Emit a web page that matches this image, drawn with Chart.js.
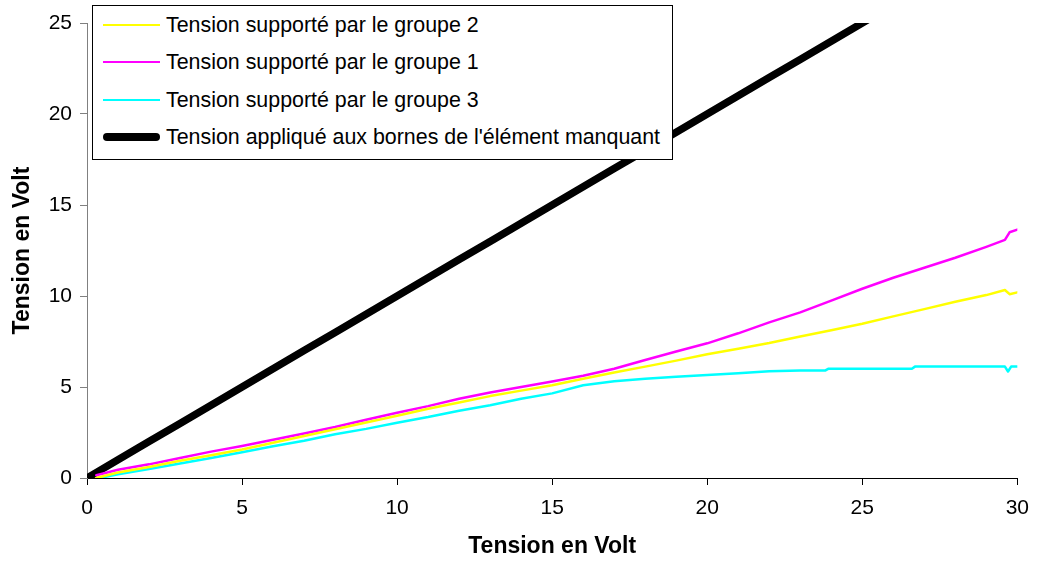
<!DOCTYPE html>
<html>
<head>
<meta charset="utf-8">
<script src="https://cdn.jsdelivr.net/npm/chart.js@4"></script>
<style>
html,body{margin:0;padding:0;background:#fff;}
#wrap{position:relative;width:1040px;height:572px;}
#legend{position:absolute;left:92px;top:5px;width:581px;height:155px;border:1px solid #000;background:#fff;box-sizing:border-box;font-family:"Liberation Sans",Arial,sans-serif;font-size:21.4px;color:#000;}
.item{position:absolute;left:10px;height:26px;display:flex;align-items:center;white-space:nowrap;}
.swatch{width:57px;margin-right:6px;}
</style>
</head>
<body>
<div id="wrap"><canvas id="c" width="1040" height="572"></canvas><div id="legend"></div></div>
<script>
// Series labels
const labels = [
  "Tension supporté par le groupe 2",
  "Tension supporté par le groupe 1",
  "Tension supporté par le groupe 3",
  "Tension appliqué aux bornes de l'élément manquant"
];
const colors = ["#FFFF00", "#FF00FF", "#00FFFF", "#000000"];

// Groupe 2 (yellow)
const g2X = [0.3,1,2,3,4,5,6,7,8,9,10,11,12,13,14,15,16,17,18,19,20,21,22,23,24,25,26,27,28,29,29.6,29.75,30];
const g2Y = [0,0.3,0.6,0.95,1.25,1.57,1.94,2.31,2.68,3.05,3.42,3.8,4.15,4.5,4.8,5.1,5.45,5.8,6.12,6.45,6.8,7.1,7.42,7.78,8.12,8.48,8.88,9.28,9.68,10.05,10.33,10.1,10.2];

// Groupe 1 (magenta)
const g1X = [0.3,1,2,3,4,5,6,7,8,9,10,11,12,13,14,15,16,17,18,19,20,21,22,23,24,25,26,27,28,29,29.6,29.75,30];
const g1Y = [0.15,0.45,0.75,1.1,1.45,1.76,2.1,2.45,2.8,3.2,3.59,3.95,4.35,4.7,5.0,5.3,5.62,6.0,6.48,6.95,7.4,7.95,8.55,9.1,9.75,10.4,11.0,11.55,12.1,12.7,13.08,13.5,13.65];

// Groupe 3 (cyan)
const g3X = [0.4,1,2,3,4,5,6,7,8,9,10,11,12,13,14,15,16,17,18,19,20,21,22,23,23.8,23.9,26.6,26.7,29.6,29.7,29.8,30];
const g3Y = [0,0.2,0.5,0.8,1.1,1.41,1.75,2.05,2.4,2.7,3.04,3.35,3.7,4.0,4.35,4.65,5.1,5.32,5.45,5.56,5.66,5.76,5.86,5.9,5.9,6.0,6.0,6.12,6.12,5.85,6.12,6.12];

// Applied voltage (black)
const bX = [0,1,2,3,4,5,6,7,8,9,10,11,12,13,14,15,16,17,18,19,20,21,22,23,24,25,26,27,28,29,30];
const bY = [0,1,2,3,4,5,6,7,8,9,10,11,12,13,14,15,16,17,18,19,20,21,22,23,24,25,26,27,28,29,30];

// Axis ticks
const xTicks = [0,5,10,15,20,25,30];
const yTicks = [0,5,10,15,20,25];

function pts(xs, ys){ return xs.map((x,i)=>({x:x, y:ys[i]})); }

const series = [pts(g2X,g2Y), pts(g1X,g1Y), pts(g3X,g3Y), pts(bX,bY)];
const widths = [2.5, 2.5, 2.5, 7.5];

const FONT = '"Liberation Sans", Arial, sans-serif';

const chart = new Chart(document.getElementById('c'), {
  type: 'line',
  data: {
    datasets: series.map((d,i)=>({
      label: labels[i],
      data: d,
      borderColor: colors[i],
      backgroundColor: colors[i],
      borderWidth: widths[i],
      pointRadius: 0,
      tension: 0,
      fill: false,
      borderCapStyle: 'round',
      borderJoinStyle: 'round'
    }))
  },
  options: {
    responsive: false,
    animation: false,
    devicePixelRatio: 1,
    layout: { padding: { top: 23, right: 14, left: 0, bottom: 0 } },
    plugins: { legend: { display: false }, tooltip: { enabled: false } },
    scales: {
      x: {
        type: 'linear', min: 0, max: 30,
        afterBuildTicks: s => { s.ticks = xTicks.map(v=>({value:v})); },
        afterFit: s => { s.height = 94; },
        ticks: { font: { family: FONT, size: 21 }, color: '#000', padding: 11, maxRotation: 0 },
        grid: { drawOnChartArea: false, drawTicks: true, tickLength: 7, color: '#000' },
        border: { color: '#000', width: 1 },
        title: { display: true, text: 'Tension en Volt', font: { family: FONT, size: 23, weight: 'bold' }, color: '#000', padding: { top: 0, bottom: 12 } }
      },
      y: {
        type: 'linear', min: 0, max: 25,
        afterBuildTicks: s => { s.ticks = yTicks.map(v=>({value:v})); },
        afterFit: s => { s.width = 87; },
        ticks: { font: { family: FONT, size: 21 }, color: '#000', padding: 8 },
        grid: { drawOnChartArea: false, drawTicks: true, tickLength: 7, color: '#808080' },
        border: { color: '#808080', width: 1 },
        title: { display: true, text: 'Tension en Volt', font: { family: FONT, size: 23, weight: 'bold' }, color: '#000', padding: { top: 9, bottom: 0 } }
      }
    }
  }
});

// HTML legend built from the dataset labels
const leg = document.getElementById('legend');
const rowTops = [6, 43, 81, 118];
chart.data.datasets.forEach((ds,i)=>{
  const item = document.createElement('div');
  item.className = 'item';
  item.style.top = rowTops[i] + 'px';
  const sw = document.createElement('div');
  sw.className = 'swatch';
  sw.style.height = ds.borderWidth + 'px';
  sw.style.background = ds.borderColor;
  sw.style.borderRadius = ds.borderWidth > 3 ? '4px' : '0';
  const t = document.createElement('span');
  t.textContent = ds.label;
  item.appendChild(sw); item.appendChild(t);
  leg.appendChild(item);
});
</script>
</body>
</html>
